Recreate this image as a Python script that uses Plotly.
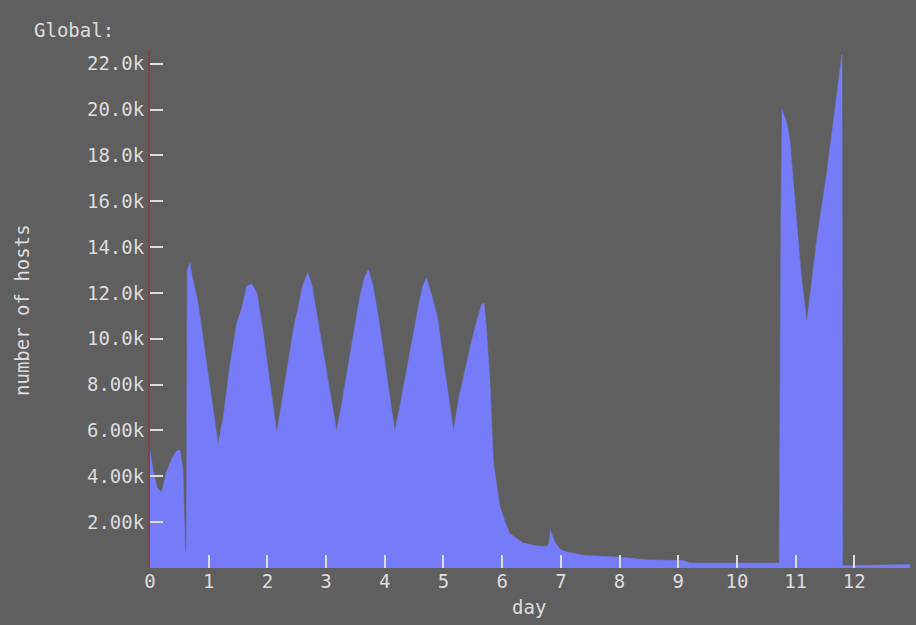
import plotly.graph_objects as go

# data (day, number of hosts)
day = [0.00, 0.05, 0.12, 0.20, 0.28, 0.38, 0.45, 0.51, 0.56, 0.58, 0.60, 0.62,
       0.635, 0.68, 0.72, 0.80, 0.85, 0.97, 1.08, 1.16,
       1.25, 1.36, 1.48, 1.56, 1.65, 1.73, 1.82, 1.93, 2.04, 2.16,
       2.25, 2.35, 2.45, 2.52, 2.60, 2.69, 2.76, 2.86, 2.96, 3.06, 3.18,
       3.27, 3.37, 3.47, 3.58, 3.66, 3.72, 3.80, 3.90, 4.00, 4.08, 4.17,
       4.27, 4.37, 4.47, 4.58, 4.65, 4.71, 4.80, 4.90, 5.00, 5.08, 5.17,
       5.27, 5.39, 5.48, 5.56, 5.65, 5.69, 5.73, 5.79, 5.85, 5.96, 6.05,
       6.13, 6.35, 6.55, 6.76, 6.80, 6.82, 6.90, 7.00,
       7.10, 7.40, 7.95, 8.50, 9.07, 9.20, 10.72, 10.73, 10.75, 10.77, 10.85,
       10.90, 11.00, 11.09, 11.19, 11.36, 11.53, 11.67, 11.78, 11.79, 11.80, 12.95]
hosts = [5100, 4300, 3500, 3300, 4200, 4800, 5100, 5150, 4300, 2000, 700, 700,
         13000, 13300, 12700, 11800, 11000, 8800, 6900, 5400,
         6600, 8800, 10700, 11300, 12300, 12400, 12000, 10250, 8100, 5900,
         7300, 8900, 10500, 11300, 12300, 12900, 12300, 10800, 9300, 7700, 5950,
         7200, 8700, 10200, 11900, 12700, 13000, 12300, 10800, 9000, 7600, 5950,
         7200, 8600, 10000, 11500, 12300, 12650, 11900, 10900, 9000, 7600, 6000,
         7500, 8900, 9900, 10700, 11500, 11550, 10500, 8200, 4600, 2700, 2000,
         1500, 1100, 980, 930, 1100, 1650, 1100, 800,
         700, 550, 480, 350, 330, 220, 220, 8900, 15300, 20000, 19400,
         18700, 15800, 12900, 10700, 14300, 17200, 20100, 22400, 22400, 100, 150]

x_ticks = list(range(0, 13))
y_ticks = [2000, 4000, 6000, 8000, 10000, 12000, 14000, 16000, 18000, 20000, 22000]
y_tick_labels = ["2.00k", "4.00k", "6.00k", "8.00k", "10.0k", "12.0k",
                 "14.0k", "16.0k", "18.0k", "20.0k", "22.0k"]

BG = "#5f5f5f"
FILL = "#767cf8"
TXT = "#dddddd"
FONT = "DejaVu Sans Mono"

fig = go.Figure()
fig.add_trace(go.Scatter(
    x=day, y=hosts, mode="lines", fill="tozeroy",
    line=dict(color=FILL, width=0.5), fillcolor=FILL,
    hoverinfo="skip", showlegend=False,
))

fig.update_layout(
    width=916, height=625,
    margin=dict(l=150, r=3, t=50, b=57),
    paper_bgcolor=BG, plot_bgcolor=BG,
    font=dict(family=FONT, size=20, color=TXT),
    xaxis=dict(
        range=[0, 13], tickvals=x_ticks, ticktext=[str(v) for v in x_ticks],
        ticks="inside", ticklen=13, tickwidth=2, tickcolor=TXT,
        showgrid=False, zeroline=False, showline=False,
        tickfont=dict(family=FONT, size=19, color=TXT),
    ),
    yaxis=dict(
        range=[0, 22600], tickvals=y_ticks, ticktext=y_tick_labels,
        ticks="inside", ticklen=13, tickwidth=2, tickcolor=TXT,
        showgrid=False, zeroline=False,
        showline=True, linecolor="#7a4646", linewidth=2,
        tickfont=dict(family=FONT, size=19, color=TXT),
    ),
    annotations=[
        dict(text="Global:", xref="paper", yref="paper",
             x=(32 - 150) / 763, y=(568 - 30) / 518,
             xanchor="left", yanchor="middle", showarrow=False,
             font=dict(family=FONT, size=19, color=TXT)),
        dict(text="number of hosts", xref="paper", yref="paper",
             x=(22 - 150) / 763, y=(568 - 310) / 518, textangle=-90,
             xanchor="center", yanchor="middle", showarrow=False,
             font=dict(family=FONT, size=19, color=TXT)),
        dict(text="day", xref="paper", yref="paper",
             x=(529 - 150) / 763, y=-(607 - 568) / 518,
             xanchor="center", yanchor="middle", showarrow=False,
             font=dict(family=FONT, size=19, color=TXT)),
    ],
)

fig.write_html("out.html")
